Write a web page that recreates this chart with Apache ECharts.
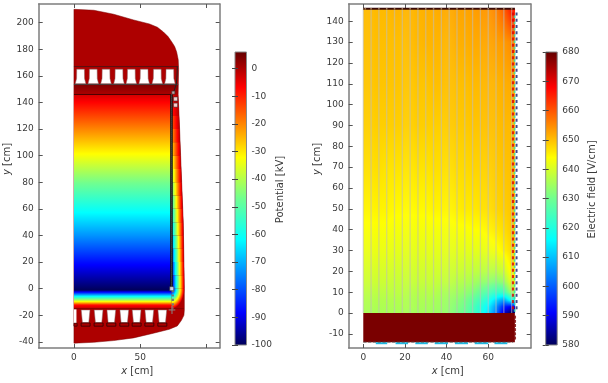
<!DOCTYPE html>
<html><head><meta charset="utf-8">
<style>html,body{margin:0;padding:0;background:#fff}#c{width:608px;height:383px}</style>
<script src="https://cdn.jsdelivr.net/npm/echarts@6/dist/echarts.min.js"></script>
</head><body><div id="c"></div>
<script>
// ---- colour scale (fraction of range → colour)
const scaleStops=[[0,[0,0,90]],[0.11,[0,0,255]],[0.36,[0,255,255]],[0.5,[112,255,144]],[0.64,[255,255,0]],[0.88,[255,0,0]],[1,[100,0,0]]];
// ---- tick labels
const leftXTicks=[0,50,100], leftXLabels=[0,50];
const leftYTicks=[-40,-20,0,20,40,60,80,100,120,140,160,180,200];
const rightXTicks=[0,20,40,60];
const rightYTicks=[-10,0,10,20,30,40,50,60,70,80,90,100,110,120,130,140];
const potTicks=[0,-10,-20,-30,-40,-50,-60,-70,-80,-90,-100];
const fieldTicks=[580,590,600,610,620,630,640,650,660,670,680];
// ---- left panel: potential
const bodyX=[0,15,30,45,57,63,67.5,71,73.7,76,77.5,78.7,79,78.6,79.5,80.5,81.3,82.5,83,83.3,83.3,83,81,78,72,60,45,30,15,0];
const bodyY=[210,209.3,206.3,202,199,196.5,193,189.5,185.7,182,178,172,165,146,126,100,80,50,20,0,-16,-20,-24,-28,-30.5,-33.5,-37,-39,-40.3,-41];
const mainY=[146,120,100,80,60,40,20,2,-1,-3,-5.5,-9.8,-12.3,-15];
const mainKV=[-3,-20,-33,-46.5,-60,-73,-87,-98,-100,-85,-64,-32,-8,-1];
const bandY=[146,140,130,120,110,100,90,80,70,60,50,40,30,20,10,0];
const bandEdge=[78.6,78.9,79.3,79.7,80.1,80.5,80.9,81.3,81.7,82.1,82.5,82.7,82.9,83,83.2,83.3];
const bandInner=[-3,-7,-13,-20,-26,-33,-40,-46.5,-53,-60,-66,-73,-80,-87,-93,-100];
const capY=[154,146], capKV=[4,0];
const topSlots=[5,14.6,24.2,34,43.3,53,62.9,72.4];
const bottomSlots=[8.8,18.6,28.2,38,47.3,56.9,66.7];
const railX=[73.6,73.6], railY=[146,0];
const ladderX=[74.6,74.6], ladderY=[-1,-15];
const leadX=[78,77.8,77.3,75], leadY=[167,160,154,147];
const whiteSquares=[[73.8,0],[76.7,142.6],[76.7,138],[75,147.4]];
// ---- right panel: electric field
const stripeX=[0,3.75,7.5,11.25,15,18.75,22.5,26.25,30,33.75,37.5,41.25,45,48.75,52.5,56.25,60,63.75,67.5,71.25];
const fieldY=[146,130,110,90,70,50,40,30,20,15,10,6,3,0];
const fieldV=[
[650.5,650.5,650.5,650.5,651,651,651,651,651.5,651.5,652,652,652.5,652.5,653,653.5,654,655.5,659,666],
[650,650,650,650,650,650,650.5,650.5,651,651,651,651,651.5,651.5,652,652,652.5,653,653.5,655],
[649.5,649.5,649.5,649.5,649.5,649.5,649.5,649.5,649.5,650,650,650,650,650,650.5,650.5,651,651,651.5,652],
[648.5,648.5,648.5,648.5,648.5,648.5,648.5,648.5,648.5,648.5,648.5,649,649,649,649.5,649.5,650,650,650.5,650.5],
[647,647,647,646.5,646.5,646.5,646.5,646.5,646.5,647,647,647,647.5,647.5,648,648,648.5,649,649.5,650],
[645,645,645,645,644.5,644.5,644.5,644.5,644.5,645,645,645,645.5,646,646,646.5,647,648,648.5,649.5],
[643.5,643.5,643.5,643.5,643,643,643,643,643,643,643,643,643.5,643.5,644,644,645,646,647,649],
[642,642,642,642,641.5,641.5,641.5,641.5,641.5,641.5,641.5,641.5,641.5,641.5,641.5,641.5,642,643,645,647.5],
[640,640,640,640,639.5,639.5,639.5,639.5,639.5,639.5,639.5,639,639,638.5,638,637.5,637,637,639,645],
[639,639,639,639,638.5,638.5,638.5,638.5,638.5,638.5,638,638,637,636.5,635.5,634,633,632,634,642],
[637.5,637.5,637.5,637.5,637.5,637.5,637,637,637,637,636,635.5,635,633.5,632,629,626,623,624,636],
[636.5,636.5,636.5,636.5,636.5,636.5,636,636,636,635.5,635,634,633,631,628,624,619,612,606,618],
[636,636,636,636,636,636,636,635.5,635.5,635,634.5,633.5,632,630,626,621,615,606,594,590],
[635.5,635.5,635.5,635.5,635.5,635.5,635,635,635,634.5,634,633,631,629,625,620,613,603,588,580]];
const fieldRightEdge=72.6;
const plateTop=0, plateBottom=-14, plateRight=72.8;
const lensStart=[6,15.5,25,34.3,44,53.5,63], lensEnd=[11.5,21.5,31,40.7,50.3,60,69.2];
const ringY=[143.5,140.5,137.5,134.5,131.5,128.5,125.5,122.5,119.5,116.5,113.5,110.5,107.5,104.5,101.5,98.5,95.5,92.5,89.5,86.5,83.5,80.5,77.5,74.5,71.5,68.5,65.5,62.5,59.5,56.5,53.5,50.5,47.5,44.5,41.5,38.5,35.5,32.5,29.5,26.5,23.5,20.5,17.5,14.5,11.5,8.5,5.5,2.5];
const topDashX=[1,3.75,7.5,11.25,15,18.75,22.5,26.25,30,33.75,37.5,41.25,45,48.75,52.5,56.25,60,63.75,67.5,71.25];

const FONT='"DejaVu Sans"', TXT='#3a3a3a', AX='#7d7d7d';
const frac2rgb=f=>{f=Math.max(0,Math.min(1,f));for(let i=1;i<scaleStops.length;i++){if(f<=scaleStops[i][0]){const a=scaleStops[i-1],b=scaleStops[i],t=(f-a[0])/(b[0]-a[0]);return 'rgb('+a[1].map((c,k)=>Math.round(c+(b[1][k]-c)*t)).join(',')+')';}}return 'rgb(100,0,0)';};
const kv=v=>frac2rgb((v+100)/106), vc=v=>frac2rgb((v-580)/100);
function rangeStops(a,b,fn,lo,hi){
  const out=[{offset:0,color:fn(a)}];
  if(a===b){out.push({offset:1,color:fn(b)});return out;}
  const knots=scaleStops.map(s=>lo+s[0]*(hi-lo)).filter(k=>(k-a)*(k-b)<0).sort((p,q)=>(p-a)/(b-a)-(q-a)/(b-a));
  knots.forEach(k=>out.push({offset:(k-a)/(b-a),color:fn(k)}));
  out.push({offset:1,color:fn(b)});
  return out;
}
function seqStops(ys,vals,fn,lo,hi){
  const y0=ys[0],y1=ys[ys.length-1],out=[];
  for(let i=0;i<ys.length-1;i++){
    rangeStops(vals[i],vals[i+1],fn,lo,hi).forEach(s=>{
      out.push({offset:((ys[i]+(ys[i+1]-ys[i])*s.offset)-y0)/(y1-y0),color:s.color});
    });
  }
  return out;
}
const G=echarts.graphic;
const poly=(api,pts,style)=>({type:'polygon',shape:{points:pts.map(p=>api.coord(p))},style});
const custom=(ax,ay,data,renderItem,z)=>({type:'custom',xAxisIndex:ax,yAxisIndex:ay,data,renderItem,clip:false,silent:true,z:z||2});
const line=(ax,ay,xs,ys,color,width,dash,z)=>({type:'line',xAxisIndex:ax,yAxisIndex:ay,data:xs.map((x,i)=>[x,ys[i]]),showSymbol:false,silent:true,
  lineStyle:{color,width,type:dash||'solid'},z:z||3});
const scatter=(ax,ay,pts,color,size,z,border)=>({type:'scatter',xAxisIndex:ax,yAxisIndex:ay,data:pts,symbol:'rect',symbolSize:size,silent:true,
  itemStyle:{color,borderColor:border||color,borderWidth:border?0.7:0},z:z||4});

const series=[];
// ---- LEFT
series.push(custom(0,0,[[0,0]],(p,api)=>poly(api,bodyX.map((x,i)=>[x,bodyY[i]]),{fill:kv(0),stroke:'#7a0000',lineWidth:0.5})));
series.push(custom(0,0,[[0,0]],(p,api)=>{
  const a=api.coord([0,mainY[0]]),b=api.coord([73.6,mainY[mainY.length-1]]);
  return {type:'rect',shape:{x:a[0],y:a[1],width:b[0]-a[0],height:b[1]-a[1]},
    style:{fill:new G.LinearGradient(0,a[1],0,b[1],seqStops(mainY,mainKV,kv,-100,6),true)}};
}));
series.push(custom(0,0,bandY.slice(0,-1).map(y=>[74,y]),(p,api)=>{
  const i=p.dataIndex;
  const a=api.coord([73.6,bandY[i]]),b=api.coord([bandEdge[i],bandY[i]]);
  const c=api.coord([bandEdge[i+1],bandY[i+1]]),d=api.coord([73.6,bandY[i+1]]);
  return {type:'polygon',shape:{points:[a,b,c,d]},style:{stroke:null,
    fill:new G.LinearGradient(a[0],0,Math.max(b[0],c[0]),0,rangeStops((bandInner[i]+bandInner[i+1])/2,0,kv,-100,6),true)}};
}));
series.push(custom(0,0,[[74,0]],(p,api)=>{
  const o=api.coord([73.6,0]),r=api.coord([83.3,0])[0]-o[0],ry=api.coord([0,-15])[1]-o[1];
  return {type:'sector',x:o[0],y:o[1],scaleY:ry/r,shape:{cx:0,cy:0,r,r0:0,startAngle:0,endAngle:Math.PI/2,clockwise:true},
    style:{fill:new G.RadialGradient(0,0,r,rangeStops(-100,0,kv,-100,6),true)}};
}));
series.push(custom(0,0,[[0,150]],(p,api)=>{
  const a=api.coord([0,capY[0]]),b=api.coord([78.6,capY[1]]);
  return {type:'rect',shape:{x:a[0],y:a[1],width:b[0]-a[0],height:b[1]-a[1]},style:{fill:new G.LinearGradient(0,a[1],0,b[1],rangeStops(capKV[0],capKV[1],kv,-100,6),true)}};
}));
series.push(custom(0,0,topSlots.map(c=>[c,160]),(p,api)=>{
  const c=topSlots[p.dataIndex];
  return poly(api,[[c-2.9,165],[c+2.9,165],[c+3,158],[c+4,154],[c-4,154],[c-3,158]],{fill:'#fff',stroke:'#8a6a6a',lineWidth:0.5});
}));
series.push(custom(0,0,bottomSlots.map(c=>[c,-20]),(p,api)=>{
  const c=bottomSlots[p.dataIndex];
  return {type:'group',children:[
    poly(api,[[c-3.3,-16],[c+3.3,-16],[c+2.4,-25.5],[c-2.4,-25.5]],{fill:'#fff',stroke:'#8a6a6a',lineWidth:0.5}),
    poly(api,[[c-3.4,-25.8],[c+3.4,-25.8],[c+3.4,-28.2],[c-3.4,-28.2]],{fill:'#a80000',stroke:'#300',lineWidth:0.8})
  ]};
}));
series.push(custom(0,0,[[0,-20]],(p,api)=>poly(api,[[0,-15.5],[1.9,-15.5],[1.9,-26],[0,-26]],{fill:'#fff'})));
series.push(custom(0,0,[[0,-26]],(p,api)=>poly(api,[[0,-26],[2.4,-26],[2.4,-28.2],[0,-28.2]],{fill:'#a80000',stroke:'#300',lineWidth:0.7})));
series.push(line(0,0,[0,78.6],[167,167],'#5a1010',1));
series.push(line(0,0,[0,78.6],[153.6,153.6],'#444',1));
series.push(line(0,0,[0,73.6],[146,146],'#4a0000',1));
series.push(line(0,0,[0,83],[-15,-15],'#7a0000',0.7));
series.push(line(0,0,leadX,leadY,'#222',1));
series.push(line(0,0,railX,railY,'#111',2.6));
series.push(line(0,0,railX,railY,'#666',1,'dotted',4));
series.push(line(0,0,ladderX,ladderY,'#777',2.2,'dotted'));
series.push(line(0,0,[74,74],[-13,-19],'#888',1));
series.push(line(0,0,[71.5,76.5],[-16,-16],'#888',1));
series.push(scatter(0,0,whiteSquares.slice(0,3),'#fff',4,5,'#333'));
series.push(scatter(0,0,whiteSquares.slice(3),'#ccc',3,5,'#333'));
// ---- RIGHT
const SUB=8;
series.push(custom(2,2,stripeX.map(x=>[x,50]),(p,api)=>{
  const i=p.dataIndex,j=Math.min(i+1,stripeX.length-1),x0=stripeX[i],x1=i<stripeX.length-1?stripeX[i+1]:fieldRightEdge;
  const children=[];
  for(let s=0;s<SUB;s++){
    const t=s/SUB,a=api.coord([x0+(x1-x0)*t,fieldY[0]]),b=api.coord([x0+(x1-x0)*(t+1/SUB),0]);
    const col=fieldV.map(r=>r[i]+(r[j]-r[i])*(t+0.5/SUB));
    children.push({type:'rect',shape:{x:a[0],y:a[1],width:b[0]-a[0]+0.6,height:b[1]-a[1]},style:{
      fill:new G.LinearGradient(0,a[1],0,b[1],seqStops(fieldY,col,vc,580,680),true)}});
  }
  return {type:'group',children};
}));
series.push(custom(2,2,stripeX.map(x=>[x,50]),(p,api)=>{
  const x=stripeX[p.dataIndex];const a=api.coord([x,146]),b=api.coord([x,0]);
  return {type:'line',shape:{x1:a[0],y1:a[1],x2:b[0],y2:b[1]},style:{stroke:'rgba(190,190,190,0.55)',lineWidth:1.3}};
}));
series.push(custom(2,2,[[0,0]],(p,api)=>{
  const a=api.coord([0,plateTop]),b=api.coord([plateRight,plateBottom]);
  return {type:'rect',shape:{x:a[0],y:a[1],width:b[0]-a[0],height:b[1]-a[1]},style:{fill:'#7a0000'}};
}));
series.push(line(2,2,[0,72.8],[146,146],'#3a0a0a',2));
series.push(scatter(2,2,topDashX.map(x=>[x,146]),'#c2a070',[1.5,1.5],5));
series.push(scatter(2,2,ringY.map(y=>[71.9,y]),'#e00000',[2.2,3],5));
series.push(scatter(2,2,ringY.map(y=>[72.7,y-1.3]),'#30e0b0',[1.8,2.6],5));
series.push(scatter(2,2,ringY.map(y=>[73.6,y]),'#10206e',[2,3],5));
series.push(scatter(2,2,[-2,-4,-6,-8,-10,-12].map(y=>[73,y]),'#7a0000',[1.5,3],5));
lensStart.forEach((s,i)=>{series.push(line(2,2,[s,lensEnd[i]],[-14.5,-14.5],'#1fb7e0',2));});
series.push(line(2,2,[0,72],[-14,-14],'#555',0.8,'dashed'));
// ---- colour bars
const bar=(ax,ay,lo,hi,fn)=>custom(ax,ay,[[0,lo]],(p,api)=>{
  const a=api.coord([0,hi]),b=api.coord([1,lo]);
  return {type:'rect',shape:{x:a[0],y:a[1],width:b[0]-a[0],height:b[1]-a[1]},style:{stroke:'#888',lineWidth:1,
    fill:new G.LinearGradient(0,a[1],0,b[1],rangeStops(hi,lo,fn,lo,hi),true)}};
});
series.push(bar(4,4,-100,6,kv));
series.push(bar(5,6,580,680,vc));

// ---- axes
const baseAxis=(o)=>Object.assign({type:'value',splitLine:{show:false},axisLine:{show:true,onZero:false,lineStyle:{color:AX,width:1.5}}},o);
const ticks=(vals,extra)=>Object.assign({show:true,inside:true,length:4,customValues:vals,lineStyle:{color:'#555',width:1}},extra||{});
const labels=(vals,extra)=>Object.assign({show:true,customValues:vals,color:TXT,fontFamily:FONT,fontSize:9,margin:5,hideOverlap:false,showMinLabel:true,showMaxLabel:true},extra||{});
const nameRich={i:{fontStyle:'italic',fontFamily:FONT,fontSize:10,color:TXT}};
const nameStyle=(pad)=>({color:TXT,fontFamily:FONT,fontSize:10,rich:nameRich,padding:pad});
const xAxis=[
 baseAxis({gridIndex:0,min:-26.6,max:110,position:'bottom',axisTick:ticks(leftXTicks),axisLabel:labels(leftXLabels),name:'{i|x} [cm]',nameLocation:'middle',nameGap:15,nameTextStyle:nameStyle([0,0,0,16])}),
 baseAxis({gridIndex:0,min:-26.6,max:110,position:'top',axisTick:ticks(leftXTicks),axisLabel:{show:false}}),
 baseAxis({gridIndex:1,min:-7,max:80.4,position:'bottom',axisTick:ticks(rightXTicks),axisLabel:labels(rightXTicks),name:'{i|x} [cm]',nameLocation:'middle',nameGap:15,nameTextStyle:nameStyle([0,0,0,16])}),
 baseAxis({gridIndex:1,min:-7,max:80.4,position:'top',axisTick:ticks(rightXTicks),axisLabel:{show:false}}),
 {type:'value',gridIndex:2,min:0,max:1,show:false},
 {type:'value',gridIndex:3,min:0,max:1,show:false}
];
const barAxis=(g,lo,hi,vals,name,gap)=>[
 {type:'value',gridIndex:g,min:lo,max:hi,position:'right',z:5,splitLine:{show:false},axisLine:{show:false},
  axisTick:ticks(vals,{length:3,lineStyle:{color:'#444',width:1}}),axisLabel:labels(vals),
  name,nameLocation:'middle',nameRotate:90,nameGap:gap,nameTextStyle:{color:TXT,fontFamily:FONT,fontSize:10,padding:[0,0,0,18]}},
 {type:'value',gridIndex:g,min:lo,max:hi,position:'left',z:5,splitLine:{show:false},axisLine:{show:false},
  axisTick:ticks(vals,{length:3,lineStyle:{color:'#444',width:1}}),axisLabel:{show:false}}
];
const yAxis=[
 baseAxis({gridIndex:0,min:-44.6,max:214,position:'left',axisTick:ticks(leftYTicks),axisLabel:labels(leftYTicks),name:'{i|y} [cm]',nameLocation:'middle',nameGap:16,nameRotate:90,nameTextStyle:nameStyle([0,0,0,34])}),
 baseAxis({gridIndex:0,min:-44.6,max:214,position:'right',axisTick:ticks(leftYTicks),axisLabel:{show:false}}),
 baseAxis({gridIndex:1,min:-16.8,max:148.3,position:'left',axisTick:ticks(rightYTicks),axisLabel:labels(rightYTicks),name:'{i|y} [cm]',nameLocation:'middle',nameGap:14,nameRotate:90,nameTextStyle:nameStyle([0,0,0,34])}),
 baseAxis({gridIndex:1,min:-16.8,max:148.3,position:'right',axisTick:ticks(rightYTicks),axisLabel:{show:false}}),
 ...barAxis(2,-100,6,potTicks,'Potential [kV]',26),
 ...barAxis(3,580,680,fieldTicks,'Electric field [V/cm]',30)
];
const chart=echarts.init(document.getElementById('c'),null,{renderer:'canvas',width:608,height:383});
chart.setOption({animation:false,backgroundColor:'#fff',textStyle:{fontFamily:FONT},
 grid:[{left:38.7,top:4,width:181,height:344},{left:348.7,top:4,width:182,height:344},{left:235,top:52,width:11.5,height:293},{left:545.7,top:52,width:11.5,height:293}],
 xAxis,yAxis,series});
</script></body></html>
